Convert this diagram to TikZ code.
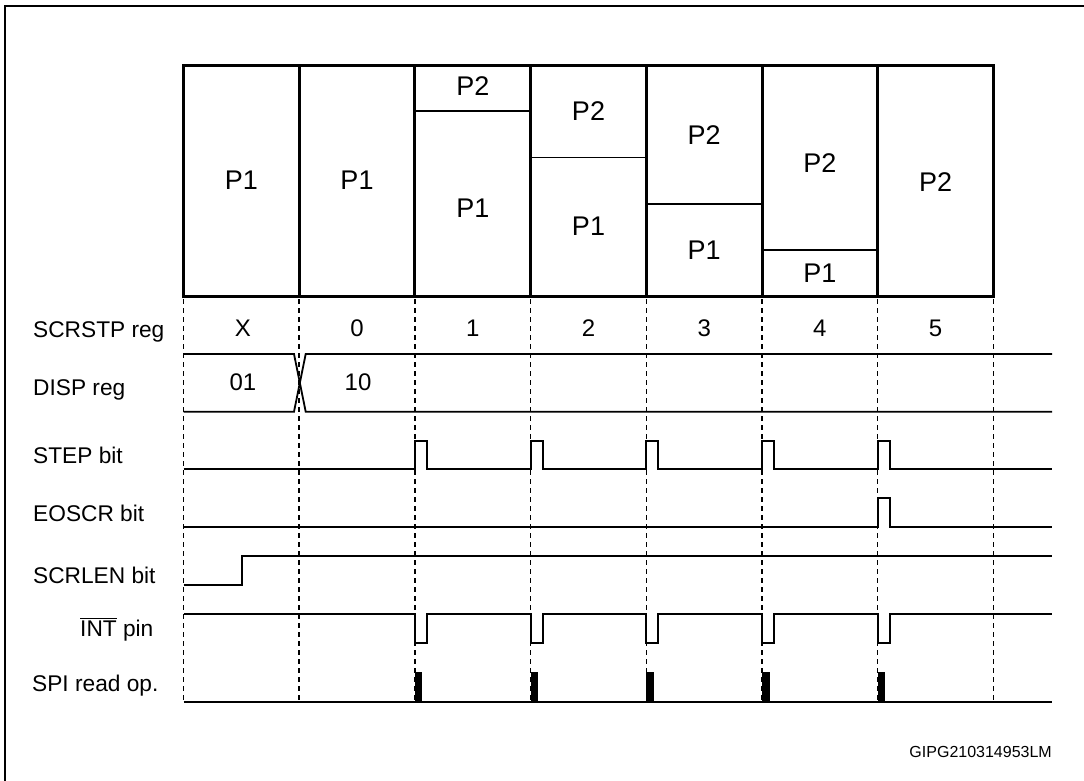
\documentclass[tikz,border=0pt]{standalone}
\usepackage{fontspec}
\setmainfont{Liberation Sans}
\newcommand{\barred}[1]{{\setbox0\hbox{#1}\rlap{\raisebox{\dimexpr\ht0+2.2pt\relax}{\rule{\wd0}{1.3pt}}}\box0}}
\begin{document}
\begin{tikzpicture}[x=1pt,y=-1pt,
  frame/.style={line width=2.8pt},
  colb/.style={line width=3pt},
  divl/.style={line width=1.8pt},
  sig/.style={line width=1.8pt, line join=miter},
  guide/.style={line width=1.5pt, dash pattern=on 5pt off 4pt},
  ptext/.style={font=\fontsize{27}{30}\selectfont, inner sep=0pt},
  vtext/.style={font=\fontsize{24}{28}\selectfont, inner sep=0pt, anchor=base},
  ltext/.style={font=\fontsize{22.7}{26}\selectfont, inner sep=0pt, anchor=base west},
  idtext/.style={font=\fontsize{16}{19}\selectfont, inner sep=0pt, anchor=base east},
]
\useasboundingbox (0,0) rectangle (1084,780);
% outer frame
\draw[frame] (5,782) -- (5,6) -- (1086,6);
% guide lines
\foreach \x in {183.5,299.2,414.9,530.6,646.3,762.0,877.7,993.4}
  \draw[guide] (\x,299) -- (\x,702);
% boxes
\foreach \x in {299.2,414.9,530.6,646.3,762.0,877.7}
  \draw[colb] (\x,65) -- (\x,296);
\draw[divl] (414.9,111.2) -- (530.6,111.2);
\draw[divl] (530.6,157.4) -- (646.3,157.4);
\draw[divl] (646.3,203.6) -- (762.0,203.6);
\draw[divl] (762.0,249.8) -- (877.7,249.8);
\draw[colb] (183.5,65) rectangle (993.4,296);
% box texts
\node[ptext] (c1a) at (241.3,180.3) {P1};
\node[ptext] (c2a) at (357.0,180.3) {P1};
\node[ptext] (c3b) at (472.8,86.3) {P2};
\node[ptext] (c3a) at (472.8,208.3) {P1};
\node[ptext] (c4b) at (588.5,111.3) {P2};
\node[ptext] (c4a) at (588.5,226.7) {P1};
\node[ptext] (c5b) at (704.2,134.7) {P2};
\node[ptext] (c5a) at (704.2,250.0) {P1};
\node[ptext] (c6b) at (819.9,163.3) {P2};
\node[ptext] (c6a) at (819.9,273.0) {P1};
\node[ptext] (c7b) at (935.6,182.0) {P2};
% labels
\node[ltext] (l1) at (33,337) {SCRSTP reg};
\node[ltext] (l2) at (33,395) {DISP reg};
\node[ltext] (l3) at (33,463.3) {STEP bit};
\node[ltext] (l4) at (33,521.7) {EOSCR bit};
\node[ltext] (l5) at (33,583.3) {SCRLEN bit};
\node[ltext] (l6) at (80,636.7) {\barred{INT} pin};
\node[ltext] (l7) at (32,691.7) {SPI read op.};
% SCRSTP values
\node[vtext] (s0) at (243,336.7) {X};
\node[vtext] (s1) at (357.0,336.7) {0};
\node[vtext] (s2) at (472.8,336.7) {1};
\node[vtext] (s3) at (588.5,336.7) {2};
\node[vtext] (s4) at (704.2,336.7) {3};
\node[vtext] (s5) at (819.9,336.7) {4};
\node[vtext] (s6) at (935.6,336.7) {5};
% DISP reg
\draw[sig] (183.5,354) -- (294,354) -- (305.7,411.7) -- (1052,411.7);
\draw[sig] (183.5,411.7) -- (294,411.7) -- (305.7,354) -- (1052,354);
\node[vtext] (d0) at (243,390) {01};
\node[vtext] (d1) at (358,390) {10};
% STEP bit
\draw[sig] (183.5,469.3)
  \foreach \x in {414.9,530.6,646.3,762.0,877.7}{ -- (\x,469.3) -- (\x,440.7) -- ({\x+12},440.7) -- ({\x+12},469.3)}
  -- (1052,469.3);
% EOSCR bit
\draw[sig] (183.5,527.3) -- (877.7,527.3) -- (877.7,498.3) -- (889.7,498.3) -- (889.7,527.3) -- (1052,527.3);
% SCRLEN bit
\draw[sig] (183.5,585) -- (242.3,585) -- (242.3,556) -- (1052,556);
% INT pin
\draw[sig] (183.5,614)
  \foreach \x in {414.9,530.6,646.3,762.0,877.7}{ -- (\x,614) -- (\x,642.7) -- ({\x+12},642.7) -- ({\x+12},614)}
  -- (1052,614);
% SPI read op.
\draw[sig] (183.5,701.7) -- (1052,701.7);
\foreach \x in {414.9,530.6,646.3,762.0,877.7}
  \fill (\x,671.7) rectangle ({\x+7.5},701.7);
% id
\node[idtext] (id) at (1052,757) {GIPG210314953LM};
\end{tikzpicture}
\end{document}
